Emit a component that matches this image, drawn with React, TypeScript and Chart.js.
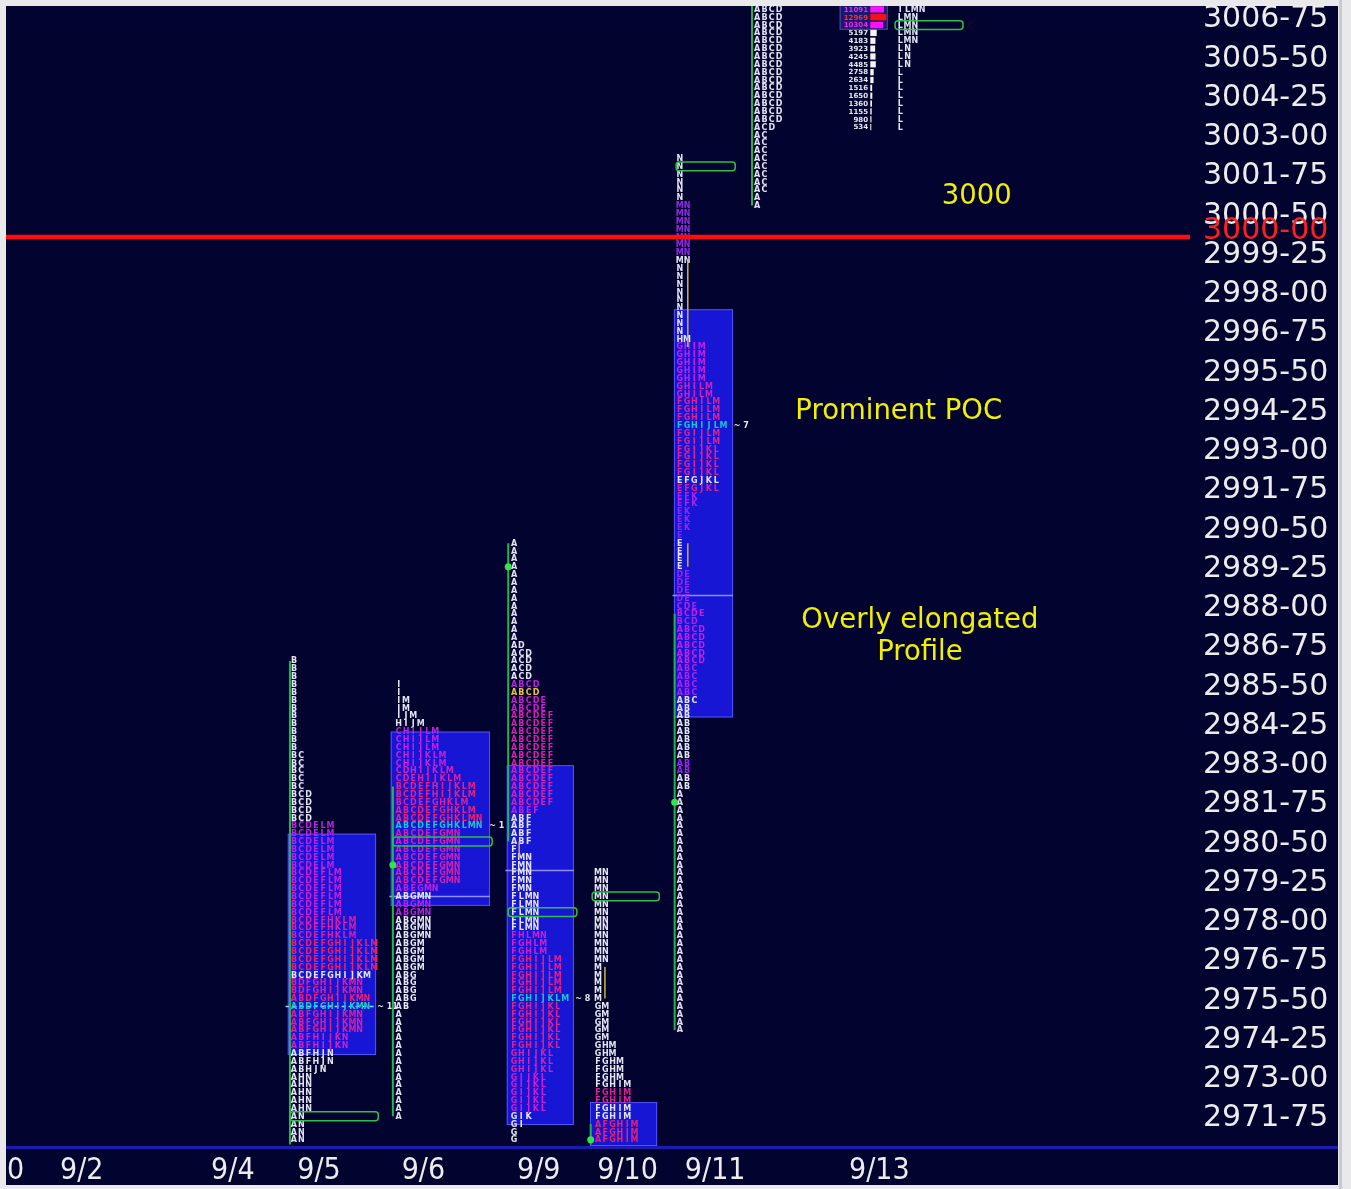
import { useEffect, useRef } from 'react';
import { Chart, registerables } from 'chart.js';

Chart.register(...registerables);

// ---------------- axis data ----------------
const yTickValues = [
  2971.75, 2973.0, 2974.25, 2975.5, 2976.75, 2978.0, 2979.25, 2980.5, 2981.75, 2983.0,
  2984.25, 2985.5, 2986.75, 2988.0, 2989.25, 2990.5, 2991.75, 2993.0, 2994.25, 2995.5,
  2996.75, 2998.0, 2999.25, 3000.5, 3001.75, 3003.0, 3004.25, 3005.5, 3006.75,
];
const yMin = 2971.02;
const yMax = 3007.357;

// x axis is measured in TPO letter columns
const xMin = 0;
const xMax = 162.2;
const xTickCols = [0.14, 7.4, 28.1, 39.9, 54.2, 70.0, 81.0, 93.0, 115.5];
const xTickLabels = ['0', '9/2', '9/4', '9/5', '9/6', '9/9', '9/10', '9/11', '9/13'];

const refLinePrice = 3000;
const refLineLabel = '3000-00';

// ---------------- TPO profiles: [letter, high, low] ----------------
type Seg = [string, number, number];

const tpo0905: Seg[] = [
  ['A', 2975.75, 2971.25], ['B', 2986.5, 2973.5], ['C', 2983.5, 2976.5], ['D', 2982.25, 2975.5],
  ['E', 2981.25, 2976.5], ['F', 2979.75, 2973.75], ['G', 2977.5, 2974.75], ['H', 2978.25, 2972.25],
  ['I', 2977.5, 2974.25], ['J', 2977.5, 2973.5], ['K', 2978.25, 2974.25], ['L', 2981.25, 2976.75],
  ['M', 2981.25, 2974.75], ['N', 2976.25, 2971.25],
];
const tpo0906: Seg[] = [
  ['A', 2981.75, 2972.0], ['B', 2982.5, 2975.5], ['C', 2984.25, 2979.5], ['D', 2983.0, 2979.5],
  ['E', 2982.75, 2979.25], ['F', 2982.5, 2979.5], ['G', 2982.0, 2975.75], ['H', 2984.5, 2981.25],
  ['I', 2985.75, 2982.25], ['J', 2984.75, 2982.25], ['K', 2983.5, 2981.25], ['L', 2984.25, 2981.25],
  ['M', 2985.25, 2976.75], ['N', 2981.5, 2977.75],
];
const tpo0909: Seg[] = [
  ['A', 2990.25, 2980.75], ['B', 2985.75, 2980.75], ['C', 2986.75, 2982.0], ['D', 2987.0, 2982.0],
  ['E', 2985.25, 2981.75], ['F', 2984.75, 2974.25], ['G', 2977.5, 2971.25], ['H', 2977.75, 2973.5],
  ['I', 2977.0, 2971.75], ['J', 2977.0, 2972.25], ['K', 2975.75, 2972.0], ['L', 2979.0, 2972.25],
  ['M', 2980.25, 2975.75], ['N', 2980.25, 2977.75],
];
const tpo0910: Seg[] = [
  ['A', 2971.75, 2971.25], ['F', 2973.75, 2971.25], ['G', 2975.5, 2971.25], ['H', 2974.25, 2971.25],
  ['I', 2973.0, 2971.25], ['M', 2979.75, 2971.25], ['N', 2979.75, 2977.0],
];
const tpo0911: Seg[] = [
  ['A', 2987.5, 2974.75], ['B', 2988.0, 2982.5], ['C', 2988.25, 2985.25], ['D', 2989.25, 2986.5],
  ['E', 2992.25, 2988.0], ['F', 2994.75, 2991.5], ['G', 2996.5, 2992.0], ['H', 2996.75, 2994.0],
  ['I', 2996.5, 2992.5], ['J', 2994.0, 2992.0], ['K', 2993.25, 2990.75], ['L', 2995.25, 2992.0],
  ['M', 3001.0, 2999.25], ['M', 2996.75, 2993.5], ['N', 3002.5, 2997.0],
];
const tpo0912: Seg[] = [
  ['A', 3007.5, 3001.0], ['B', 3007.5, 3003.75], ['C', 3007.5, 3001.5], ['D', 3007.5, 3003.5],
];
const tpo0913: Seg[] = [
  ['I', 3007.5, 3007.25], ['L', 3007.5, 3003.5], ['M', 3007.5, 3006.25], ['N', 3007.5, 3005.5],
];

const profileDates = ['9/5', '9/6', '9/9', '9/10', '9/11', '9/12', '9/13'];
const profileCols = [39.45, 53.8, 69.6, 81.1, 92.3, 102.9, 122.5];
const profileTpos = [tpo0905, tpo0906, tpo0909, tpo0910, tpo0911, tpo0912, tpo0913];
// price ranges [high, low] whose rows carry the heat colouring
const profileColored: number[][][] = [
  [[2981.25, 2976.75], [2976.25, 2974.25]],
  [[2984.25, 2979.25], [2978.75, 2978.5]],
  [[2985.75, 2981.75], [2977.75, 2972.25]],
  [[2972.75, 2972.5], [2971.75, 2971.25]],
  [[3001.0, 2999.5], [2996.5, 2992.5], [2992.0, 2990.5], [2989.25, 2985.5], [2983.25, 2983.0]],
  [],
  [],
];
const profilePoc: (number | null)[] = [2975.5, 2981.25, 2975.75, null, 2994.0, null, null];
const profilePocLabel = ['~ 11', '~ 1', '~ 8', '', '~ 7', '', ''];
const profileYellowRows: number[][] = [[], [], [2985.5], [], [], [], []];

// value-area boxes: [left col, right col, low, high]
const vaBoxes: number[][] = [
  [38.6, 50.7, 2973.95, 2981.0],
  [52.7, 66.3, 2978.7, 2984.25],
  [68.6, 77.8, 2971.72, 2983.18],
  [80.0, 89.2, 2971.05, 2972.45],
  [91.5, 99.6, 2984.7, 2997.7],
];
const smallBox = [114.2, 120.8, 3006.6, 3007.45];
// thin lines across boxes: [left col, right col, price]
const midLines: number[][] = [
  [38.3, 50.7, 2975.5],
  [52.5, 66.3, 2979.0],
  [68.4, 77.8, 2979.85],
  [91.3, 99.6, 2988.6],
];
// green rounded markers: [left col, right col, price]
const greenRects: number[][] = [
  [38.9, 51.0, 2972.0],
  [53.0, 66.6, 2980.75],
  [68.8, 78.2, 2978.5],
  [80.3, 89.5, 2979.0],
  [91.8, 99.9, 3002.25],
  [121.8, 131.1, 3006.75],
];
// green range lines: [col, high, low]
const greenLines: number[][] = [
  [38.9, 2986.5, 2971.1],
  [53.0, 2982.5, 2972.0],
  [68.8, 2990.25, 2980.75],
  [80.1, 2971.75, 2971.1],
  [91.6, 2988.0, 2974.75],
  [102.2, 3007.5, 3001.0],
];
const greenDots: number[][] = [
  [53.0, 2980.0],
  [68.8, 2989.5],
  [80.1, 2971.25],
  [91.6, 2982.0],
];
const yellowLines: number[][] = [
  [70.3, 2980.75, 2980.25],
  [82.05, 2976.75, 2975.75],
  [93.4, 2999.25, 2996.5],
  [93.4, 2990.25, 2989.5],
];

// 9/13 volume at price
const volCol = 118.1;
const volPrices = [3007.25, 3007.0, 3006.75, 3006.5, 3006.25, 3006.0, 3005.75, 3005.5,
  3005.25, 3005.0, 3004.75, 3004.5, 3004.25, 3004.0, 3003.75, 3003.5];
const volValues = [11091, 12969, 10304, 5197, 4183, 3923, 4245, 4485,
  2758, 2634, 1516, 1650, 1360, 1155, 980, 534];
const volMaxCols = 2.2;

const annotations: { text: string; col: number; price: number }[] = [
  { text: '3000', col: 133.0, price: 3001.27 },
  { text: 'Prominent POC', col: 122.3, price: 2994.43 },
  { text: 'Overly elongated', col: 125.2, price: 2987.77 },
  { text: 'Profile', col: 125.2, price: 2986.75 },
];

// ---------------- helpers ----------------
const BG = '#03032f';
const AXIS_FONT = '"DejaVu Sans", Verdana, sans-serif';
const LABEL_SHIFT = -5.5;

function fmtPrice(v: number) {
  const whole = Math.floor(v + 1e-9);
  const frac = Math.round((v - whole) * 100);
  return `${whole}-${String(frac).padStart(2, '0')}`;
}

function buildRows(tpo: Seg[]) {
  const hiQ = Math.max(...tpo.map((s) => Math.round(s[1] * 4)));
  const loQ = Math.min(...tpo.map((s) => Math.round(s[2] * 4)));
  const rows: { price: number; text: string }[] = [];
  for (let q = hiQ; q >= loQ; q--) {
    const set = new Set<string>();
    tpo.forEach((s) => {
      if (Math.round(s[1] * 4) >= q && Math.round(s[2] * 4) <= q) set.add(s[0]);
    });
    const letters = Array.from(set).sort();
    if (letters.length) rows.push({ price: q / 4, text: letters.join('') });
  }
  return rows;
}

function mix(a: number[], b: number[], t: number) {
  return a.map((v, i) => Math.round(v + (b[i] - v) * t));
}
function heat(t: number) {
  const c0 = [128, 40, 240];
  const c1 = [200, 30, 225];
  const c2 = [240, 32, 100];
  const c = t < 0.5 ? mix(c0, c1, t / 0.5) : mix(c1, c2, (t - 0.5) / 0.5);
  return `rgb(${c[0]},${c[1]},${c[2]})`;
}

const profilesPlugin = {
  id: 'profiles',
  beforeDraw(chart: any) {
    const { ctx, width, height, chartArea } = chart;
    const ys = chart.scales.y;
    const xs = chart.scales.x;
    ctx.save();
    ctx.fillStyle = '#e9e9ec';
    ctx.fillRect(0, 0, width, height);
    ctx.fillStyle = BG;
    ctx.fillRect(chartArea.left, chartArea.top, ys.right - chartArea.left, xs.bottom - chartArea.top);
    ctx.fillStyle = '#c5cad3';
    ctx.fillRect(ys.right + 1, 0, 3, height);
    ctx.restore();
  },
  beforeDatasetsDraw(chart: any) {
    const { ctx, chartArea } = chart;
    const x = chart.scales.x;
    const y = chart.scales.y;
    const rowH = Math.abs(y.getPixelForValue(3000) - y.getPixelForValue(3000.25));
    ctx.save();
    ctx.beginPath();
    ctx.rect(chartArea.left, chartArea.top, chartArea.right - chartArea.left, chartArea.bottom - chartArea.top);
    ctx.clip();

    // value area boxes
    vaBoxes.forEach(([l, r, lo, hi]) => {
      const x0 = x.getPixelForValue(l);
      const x1 = x.getPixelForValue(r);
      const y0 = y.getPixelForValue(hi);
      const y1 = y.getPixelForValue(lo);
      ctx.fillStyle = 'rgb(22,22,212)';
      ctx.fillRect(x0, y0, x1 - x0, y1 - y0);
      ctx.strokeStyle = 'rgba(90,90,255,0.9)';
      ctx.lineWidth = 1;
      ctx.strokeRect(x0 + 0.5, y0 + 0.5, x1 - x0 - 1, y1 - y0 - 1);
    });
    {
      const [l, r, lo, hi] = smallBox;
      const x0 = x.getPixelForValue(l);
      const x1 = x.getPixelForValue(r);
      const y0 = y.getPixelForValue(hi);
      const y1 = y.getPixelForValue(lo);
      ctx.fillStyle = '#181870';
      ctx.fillRect(x0, y0, x1 - x0, y1 - y0);
      ctx.strokeStyle = '#4c4ca8';
      ctx.strokeRect(x0 + 0.5, y0 + 0.5, x1 - x0 - 1, y1 - y0 - 1);
    }
    midLines.forEach(([l, r, p], i) => {
      const py = Math.round(y.getPixelForValue(p)) + 0.5;
      ctx.strokeStyle = i === 0 ? 'rgba(170,220,255,0.95)' : 'rgba(150,150,255,0.95)';
      ctx.lineWidth = 1.5;
      ctx.setLineDash(i === 0 ? [4, 3] : []);
      ctx.beginPath();
      ctx.moveTo(x.getPixelForValue(l), py);
      ctx.lineTo(x.getPixelForValue(r), py);
      ctx.stroke();
    });
    ctx.setLineDash([]);

    // TPO letters
    ctx.font = 'bold 8px "DejaVu Sans", sans-serif';
    ctx.textAlign = 'center';
    ctx.textBaseline = 'middle';
    profileTpos.forEach((tpo, pi) => {
      const rows = buildRows(tpo);
      const maxCount = Math.max(...rows.map((r) => r.text.length));
      const col = profileCols[pi];
      rows.forEach((row) => {
        const py = y.getPixelForValue(row.price);
        const colored = profileColored[pi].some(([hi, lo]) => row.price <= hi + 1e-6 && row.price >= lo - 1e-6);
        const isPoc = profilePoc[pi] !== null && Math.abs((profilePoc[pi] as number) - row.price) < 1e-6;
        let color = '#e4e4f4';
        if (isPoc) color = '#18c6cf';
        else if (profileYellowRows[pi].some((p) => Math.abs(p - row.price) < 1e-6)) color = '#e8c830';
        else if (colored) color = heat(maxCount > 1 ? (row.text.length - 1) / (maxCount - 1) : 0.5);
        ctx.fillStyle = color;
        for (let i = 0; i < row.text.length; i++) {
          ctx.fillText(row.text[i], x.getPixelForValue(col + i), py + 0.5);
        }
        if (isPoc && profilePocLabel[pi]) {
          ctx.fillStyle = '#e8e8f0';
          ctx.textAlign = 'left';
          ctx.fillText(profilePocLabel[pi], x.getPixelForValue(col + row.text.length + 0.4), py + 0.5);
          ctx.textAlign = 'center';
        }
      });
    });

    // 9/13 volume at price
    const vmax = Math.max(...volValues);
    volValues.forEach((v, i) => {
      const py = y.getPixelForValue(volPrices[i]);
      const isMax = v === vmax;
      const isHigh = !isMax && v > 10000;
      ctx.font = 'bold 7px "DejaVu Sans", sans-serif';
      ctx.textAlign = 'right';
      ctx.fillStyle = isMax ? '#ff2a2a' : isHigh ? '#ee22ee' : '#e8e8f0';
      ctx.fillText(String(v), x.getPixelForValue(volCol), py + 0.5);
      const bx0 = x.getPixelForValue(volCol + 0.3);
      const bx1 = x.getPixelForValue(volCol + 0.3 + (v / vmax) * volMaxCols);
      ctx.fillStyle = isMax ? '#ff1010' : isHigh ? '#ff10ff' : '#f4f4f4';
      ctx.fillRect(bx0, py - rowH / 2 + 0.8, Math.max(1, bx1 - bx0), rowH - 1.6);
    });
    ctx.restore();
  },
  afterDatasetsDraw(chart: any) {
    const { ctx, chartArea } = chart;
    const x = chart.scales.x;
    const y = chart.scales.y;
    const rowH = Math.abs(y.getPixelForValue(3000) - y.getPixelForValue(3000.25));
    ctx.save();
    ctx.beginPath();
    ctx.rect(chartArea.left, chartArea.top, chartArea.right - chartArea.left, chartArea.bottom - chartArea.top);
    ctx.clip();
    greenRects.forEach(([l, r, p]) => {
      const x0 = x.getPixelForValue(l);
      const x1 = x.getPixelForValue(r);
      const py = y.getPixelForValue(p);
      ctx.strokeStyle = '#2fbf4a';
      ctx.lineWidth = 1.5;
      ctx.beginPath();
      (ctx as any).roundRect(x0, py - rowH / 2 - 0.5, x1 - x0, rowH + 1, 3);
      ctx.stroke();
    });
    ctx.fillStyle = '#f0f000';
    ctx.font = '27.5px "DejaVu Sans", Verdana, sans-serif';
    ctx.textAlign = 'center';
    ctx.textBaseline = 'middle';
    annotations.forEach((a) => {
      ctx.fillText(a.text, x.getPixelForValue(a.col), y.getPixelForValue(a.price));
    });
    ctx.restore();
  },
  afterDraw(chart: any) {
    const { ctx, chartArea } = chart;
    const y = chart.scales.y;
    ctx.save();
    ctx.fillStyle = '#1c1cb2';
    ctx.fillRect(chartArea.left, chartArea.bottom - 1, y.right - chartArea.left, 3);
    ctx.font = `30px ${AXIS_FONT}`;
    ctx.fillStyle = '#ff1f1f';
    ctx.textAlign = 'left';
    ctx.textBaseline = 'middle';
    ctx.fillText(refLineLabel, y.left + 13, y.getPixelForValue(refLinePrice) + LABEL_SHIFT);
    ctx.restore();
  },
};

export default function App() {
  const ref = useRef<HTMLCanvasElement>(null);
  useEffect(() => {
    const canvas = ref.current;
    if (!canvas) return;
    const datasets: any[] = [];
    datasets.push({
      label: 'ref',
      data: [{ x: xMin, y: refLinePrice }, { x: xMax, y: refLinePrice }],
      borderColor: '#ff0d0d',
      borderWidth: 4.5,
      pointRadius: 0,
    });
    datasets.push({
      label: 'dots',
      data: greenDots.map(([c, p]) => ({ x: c, y: p })),
      showLine: false,
      pointRadius: 3.5,
      pointBackgroundColor: '#36e24a',
      pointBorderWidth: 0,
    });
    yellowLines.forEach(([c, hi, lo], i) => {
      datasets.push({
        label: 'yl' + i,
        data: [{ x: c, y: hi }, { x: c, y: lo }],
        borderColor: '#cdb443',
        borderWidth: 1.5,
        pointRadius: 0,
      });
    });
    greenLines.forEach(([c, hi, lo], i) => {
      datasets.push({
        label: 'gl' + i,
        data: [{ x: c, y: hi }, { x: c, y: lo }],
        borderColor: '#25b44c',
        borderWidth: 2,
        pointRadius: 0,
      });
    });

    const chart = new Chart(canvas, {
      type: 'line',
      data: { datasets },
      options: {
        responsive: false,
        animation: false,
        events: [],
        layout: { padding: { left: 6, top: 6, right: 13, bottom: 4 } },
        plugins: { legend: { display: false }, tooltip: { enabled: false } },
        scales: {
          x: {
            type: 'linear',
            position: 'bottom',
            min: xMin,
            max: xMax,
            grid: { display: false, drawTicks: false },
            border: { display: false },
            afterBuildTicks: (s: any) => {
              s.ticks = xTickCols.map((v) => ({ value: v }));
            },
            afterFit: (s: any) => {
              s.height = 38;
              s.paddingLeft = 0;
              s.paddingRight = 0;
            },
            ticks: {
              autoSkip: false,
              maxRotation: 0,
              minRotation: 0,
              align: 'start',
              padding: 6,
              color: '#ececec',
              font: { family: '"DejaVu Sans Condensed", "Liberation Sans Narrow", "DejaVu Sans", sans-serif', size: 30 },
              callback: (v: any) => {
                const i = xTickCols.findIndex((c) => Math.abs(c - Number(v)) < 1e-6);
                return i >= 0 ? xTickLabels[i] : '';
              },
            },
          },
          y: {
            type: 'linear',
            position: 'right',
            min: yMin,
            max: yMax,
            grid: { display: false, drawTicks: false },
            border: { display: false },
            afterBuildTicks: (s: any) => {
              s.ticks = yTickValues.map((v) => ({ value: v }));
            },
            afterFit: (s: any) => {
              s.width = 148;
              s.paddingTop = 0;
              s.paddingBottom = 0;
            },
            ticks: {
              autoSkip: false,
              padding: 13,
              labelOffset: LABEL_SHIFT,
              color: '#ececec',
              font: { family: AXIS_FONT, size: 30 },
              callback: (v: any) => fmtPrice(Number(v)),
            },
          },
        },
      },
      plugins: [profilesPlugin],
    } as any);
    return () => chart.destroy();
  }, []);

  return (
    <div style={{ position: 'absolute', left: 0, top: 0, width: 1351, height: 1189, overflow: 'hidden' }}>
      <canvas ref={ref} width={1351} height={1189} style={{ display: 'block', width: 1351, height: 1189 }} />
    </div>
  );
}
